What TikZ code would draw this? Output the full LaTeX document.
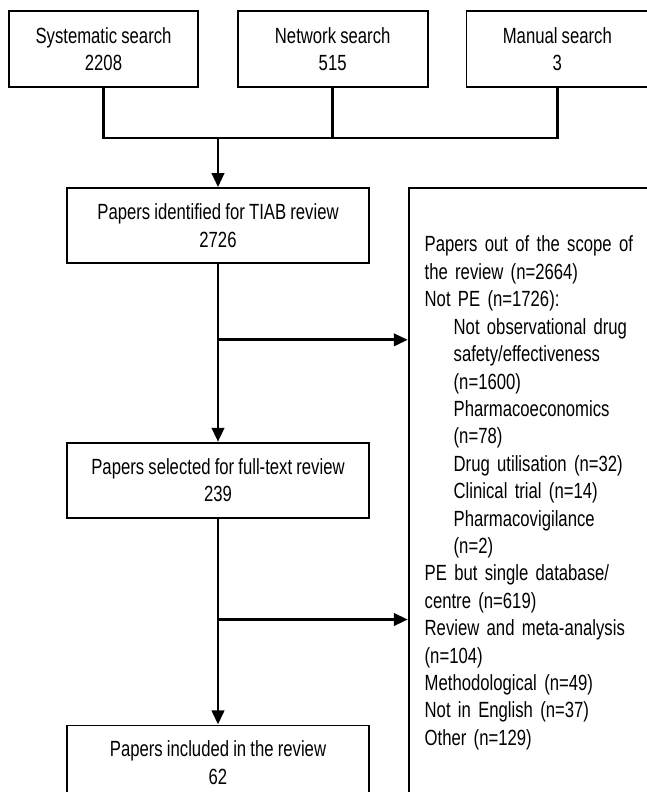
\documentclass[tikz,border=0pt]{standalone}
\usepackage{fontspec}
\setmainfont{Liberation Sans}[FakeStretch=0.76, WordSpace=0.9]
\usepackage{tikz}
\usetikzlibrary{arrows.meta, positioning, calc}
\newcommand{\indentitem}{\hspace*{0.58cm}}

\begin{document}
\begin{tikzpicture}[
  stagebox/.style={draw=black, line width=0.95pt, fill=white, align=center,
                   minimum height=1.5cm, inner sep=0pt,
                   font=\fontsize{12.5}{15.6}\selectfont},
  link/.style={line width=1.7pt, color=black},
  arr/.style={link, -{Triangle[length=8pt, width=7pt]}}
]
  \useasboundingbox (0,0) rectangle (12.92,-15.84);

  % Top: search sources
  \node[stagebox, minimum width=3.78cm, minimum height=1.52cm] (sys) at (2.07,-0.98)
    {Systematic search\\2208};
  \node[stagebox, minimum width=3.80cm, minimum height=1.52cm, right=0.76cm of sys] (net)
    {Network search\\515};
  \node[stagebox, minimum width=3.64cm, minimum height=1.52cm, right=0.74cm of net] (man)
    {Manual search\\3};

  % Screening stages
  \node[stagebox, minimum width=6.04cm] (tiab) at (4.36,-4.51)
    {Papers identified for TIAB review\\2726};
  \node[stagebox, minimum width=6.04cm, below=3.56cm of tiab] (full)
    {Papers selected for full-text review\\239};
  \node[stagebox, minimum width=6.04cm, below=4.12cm of full] (incl)
    {Papers included in the review\\62};

  % Exclusions
  \node[stagebox, align=left, text width=4.6cm, inner xsep=0.32cm,
        minimum height=12.2cm, right=0.76cm of tiab.north east,
        anchor=north west] (excl)
    {Papers out of the scope of\\
     the review (n=2664)\\
     Not PE (n=1726):\\
     \indentitem Not observational drug\\
     \indentitem safety/effectiveness\\
     \indentitem (n=1600)\\
     \indentitem Pharmacoeconomics\\
     \indentitem (n=78)\\
     \indentitem Drug utilisation (n=32)\\
     \indentitem Clinical trial (n=14)\\
     \indentitem Pharmacovigilance\\
     \indentitem (n=2)\\
     PE but single database/\\
     centre (n=619)\\
     Review and meta-analysis\\
     (n=104)\\
     Methodological (n=49)\\
     Not in English (n=37)\\
     Other (n=129)};

  % Merge of sources
  \coordinate (join) at (tiab.north |- 0,-2.76);
  \draw[link] (sys.south) -- (sys.south |- join) -- (man.south |- join) -- (man.south);
  \draw[link] (net.south) -- (net.south |- join);
  \draw[arr] (join) -- (tiab.north);

  % Main flow
  \coordinate (split1) at ($(tiab.south)+(0,-1.52)$);
  \coordinate (split2) at ($(full.south)+(0,-2.02)$);
  \draw[arr] (tiab.south) -- (full.north);
  \draw[arr] (full.south) -- (incl.north);
  \draw[arr] (split1) -- (excl.west |- split1);
  \draw[arr] (split2) -- (excl.west |- split2);
\end{tikzpicture}
\end{document}
